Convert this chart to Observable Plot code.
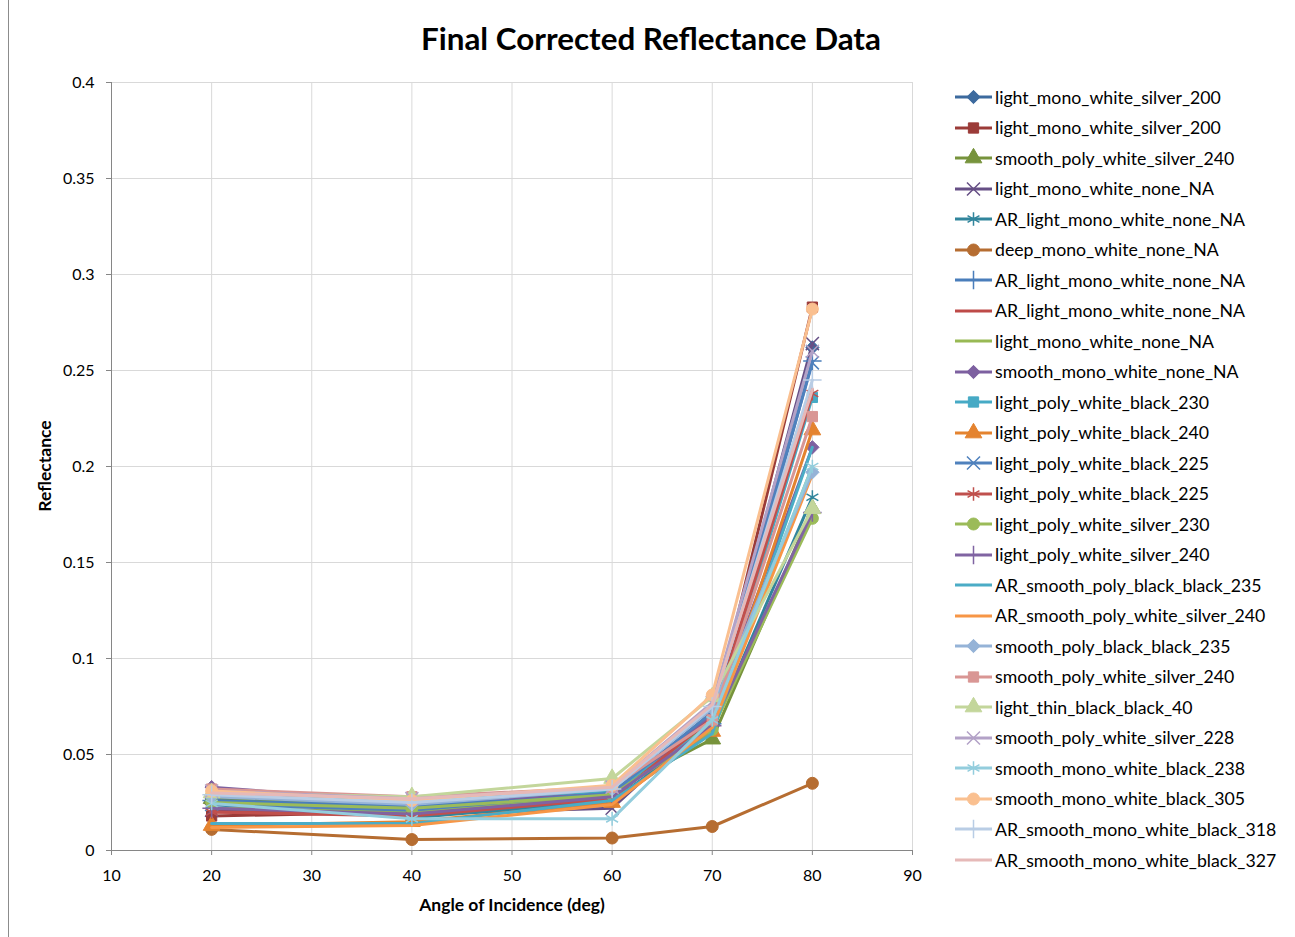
<!DOCTYPE html>
<html>
<head>
<meta charset="utf-8">
<script src="https://cdn.jsdelivr.net/npm/d3@7"></script>
<script src="https://cdn.jsdelivr.net/npm/@observablehq/plot@0.6"></script>
<style>
  html, body { margin: 0; padding: 0; background: #fff; }
  #chart { position: relative; width: 1295px; height: 937px; overflow: hidden; font-family: Lato, "DejaVu Sans", sans-serif; }
  #frame { position: absolute; left: 8px; top: -1px; width: 1300px; height: 960px; border: 1px solid #8c8c8c; box-sizing: border-box; }
  #title { position: absolute; left: 0; width: 1302px; top: 19px; text-align: center; font-weight: bold; font-size: 31.4px; color: #000; }
  #ytitle { position: absolute; left: 44px; top: 466px; transform: translate(-50%, -50%) rotate(-90deg); font-weight: bold; font-size: 17.5px; white-space: nowrap; }
  #xtitle { position: absolute; left: 512px; top: 904px; transform: translate(-50%, -50%); font-weight: bold; font-size: 17.5px; white-space: nowrap; }
  #plot { position: absolute; left: 0; top: 0; }
  #plot svg text { fill: #000; }
  .leg { position: absolute; left: 953px; height: 20px; display: flex; align-items: center; font-size: 17.7px; white-space: nowrap; }
  .leg svg { margin-right: 2px; }
</style>
</head>
<body>
<div id="chart">
  <div id="frame"></div>
  <div id="plot"></div>
  <div id="title">Final Corrected Reflectance Data</div>
  <div id="ytitle">Reflectance</div>
  <div id="xtitle">Angle of Incidence (deg)</div>
</div>
<script>
const angles = [20, 40, 60, 70, 80];
const xTicks = [10, 20, 30, 40, 50, 60, 70, 80, 90];
const yTicks = [0, 0.05, 0.1, 0.15, 0.2, 0.25, 0.3, 0.35, 0.4];

const seriesNames = [
  "light_mono_white_silver_200", "light_mono_white_silver_200", "smooth_poly_white_silver_240",
  "light_mono_white_none_NA", "AR_light_mono_white_none_NA", "deep_mono_white_none_NA",
  "AR_light_mono_white_none_NA", "AR_light_mono_white_none_NA", "light_mono_white_none_NA",
  "smooth_mono_white_none_NA", "light_poly_white_black_230", "light_poly_white_black_240",
  "light_poly_white_black_225", "light_poly_white_black_225", "light_poly_white_silver_230",
  "light_poly_white_silver_240", "AR_smooth_poly_black_black_235", "AR_smooth_poly_white_silver_240",
  "smooth_poly_black_black_235", "smooth_poly_white_silver_240", "light_thin_black_black_40",
  "smooth_poly_white_silver_228", "smooth_mono_white_black_238", "smooth_mono_white_black_305",
  "AR_smooth_mono_white_black_318", "AR_smooth_mono_white_black_327"
];
const seriesColors = [
  "#3C6A9E", "#9B3B38", "#77933C", "#664F85", "#31859C", "#B66D31",
  "#4A7EBB", "#BE4B48", "#98B954", "#7D60A0", "#46AAC5", "#E4832F",
  "#4F81BD", "#C0504D", "#9BBB59", "#8064A2", "#4BACC6", "#F79646",
  "#95B3D7", "#D99694", "#C3D69B", "#B3A2C7", "#93CDDD", "#FAC090",
  "#B9CDE5", "#E6B9B8"
];
const seriesMarkers = [
  "diamond", "square", "triangle", "times", "asterisk", "circle", "plus", "none", "none",
  "diamond", "square", "triangle", "times", "asterisk", "circle", "plus", "none", "none",
  "diamond", "square", "triangle", "times", "asterisk", "circle", "plus", "none"
];

// Reflectance per series at each angle
const refl20 = [0.025, 0.018, 0.027, 0.021, 0.024, 0.011, 0.026, 0.020, 0.022, 0.033, 0.030, 0.013, 0.024, 0.020, 0.025, 0.022, 0.014, 0.012, 0.028, 0.032, 0.030, 0.031, 0.0245, 0.031, 0.029, 0.030];
const refl40 = [0.021, 0.020, 0.024, 0.019, 0.017, 0.0057, 0.023, 0.019, 0.020, 0.025, 0.026, 0.015, 0.021, 0.018, 0.022, 0.019, 0.014, 0.013, 0.024, 0.028, 0.028, 0.027, 0.0165, 0.026, 0.025, 0.027];
const refl60 = [0.029, 0.030, 0.031, 0.022, 0.026, 0.0065, 0.030, 0.028, 0.029, 0.030, 0.031, 0.025, 0.030, 0.027, 0.029, 0.028, 0.026, 0.024, 0.032, 0.033, 0.0375, 0.033, 0.0165, 0.034, 0.032, 0.033];
const refl70 = [0.067, 0.068, 0.058, 0.070, 0.063, 0.0125, 0.066, 0.072, 0.066, 0.070, 0.065, 0.062, 0.072, 0.069, 0.063, 0.065, 0.061, 0.064, 0.074, 0.068, 0.080, 0.077, 0.068, 0.081, 0.075, 0.076];
const refl80 = [0.262, 0.283, 0.178, 0.264, 0.184, 0.035, 0.255, 0.240, 0.200, 0.210, 0.236, 0.219, 0.254, 0.238, 0.173, 0.176, 0.210, 0.196, 0.197, 0.226, 0.178, 0.260, 0.200, 0.282, 0.245, 0.240];

const byAngle = [refl20, refl40, refl60, refl70, refl80];
const data = [];
seriesNames.forEach((name, i) => {
  angles.forEach((a, j) => {
    data.push({series: i, name, angle: a, value: byAngle[j][i], color: seriesColors[i], marker: seriesMarkers[i]});
  });
});

const symbolMap = {
  diamond: d3.symbolDiamond2, square: d3.symbolSquare, triangle: d3.symbolTriangle,
  times: d3.symbolTimes, asterisk: d3.symbolAsterisk, circle: d3.symbolCircle, plus: d3.symbolPlus
};
const filledSet = new Set(["diamond", "square", "triangle", "circle"]);
const markerR = {diamond: 6, square: 5.8, triangle: 6.2, circle: 6, times: 6, asterisk: 6.5, plus: 6};

const marks = [
  Plot.ruleX(xTicks, {stroke: "#D9D9D9", strokeWidth: 1}),
  Plot.ruleY(yTicks, {stroke: "#D9D9D9", strokeWidth: 1}),
  Plot.ruleX([10], {stroke: "#868686"}),
  Plot.ruleY([0], {stroke: "#868686"})
];
seriesNames.forEach((name, i) => {
  const sd = data.filter(d => d.series === i);
  marks.push(Plot.line(sd, {x: "angle", y: "value", stroke: seriesColors[i], strokeWidth: 3, strokeLinejoin: "round"}));
  const m = seriesMarkers[i];
  if (m !== "none") {
    if (filledSet.has(m)) {
      marks.push(Plot.dot(sd, {x: "angle", y: "value", symbol: () => symbolMap[m], r: markerR[m], fill: seriesColors[i], stroke: seriesColors[i], strokeWidth: 1}));
    } else {
      marks.push(Plot.dot(sd, {x: "angle", y: "value", symbol: () => symbolMap[m], r: markerR[m], fill: "none", stroke: seriesColors[i], strokeWidth: 1.5}));
    }
  }
});

const chart = Plot.plot({
  width: 1295,
  height: 937,
  marginLeft: 111,
  marginRight: 383,
  marginTop: 82,
  marginBottom: 87,
  style: {fontFamily: "Lato, sans-serif", fontSize: "16px", color: "#868686", background: "transparent", overflow: "visible"},
  x: {domain: [10, 90], ticks: xTicks, tickSize: 5, tickPadding: 14, label: null, tickFormat: d => String(d)},
  y: {domain: [0, 0.4], ticks: yTicks, tickSize: 5, tickPadding: 12, label: null, tickFormat: d => String(+d.toFixed(2))},
  marks
});
document.getElementById("plot").appendChild(chart);

// Legend
const chartDiv = document.getElementById("chart");
seriesNames.forEach((name, i) => {
  const row = document.createElement("div");
  row.className = "leg";
  row.style.top = (97 + i * 30.52 - 10) + "px";
  const svg = d3.create("svg").attr("width", 40).attr("height", 20);
  svg.append("line").attr("x1", 2).attr("x2", 39).attr("y1", 10).attr("y2", 10)
    .attr("stroke", seriesColors[i]).attr("stroke-width", 3);
  const m = seriesMarkers[i];
  if (m !== "none") {
    const r = markerR[m];
    const path = d3.symbol(symbolMap[m], r * r * Math.PI)();
    const p = svg.append("path").attr("d", path).attr("transform", "translate(20.5,10)");
    if (filledSet.has(m)) p.attr("fill", seriesColors[i]).attr("stroke", seriesColors[i]);
    else p.attr("fill", "none").attr("stroke", seriesColors[i]).attr("stroke-width", 1.5);
  }
  row.appendChild(svg.node());
  const span = document.createElement("span");
  span.textContent = name;
  row.appendChild(span);
  chartDiv.appendChild(row);
});
</script>
</body>
</html>
